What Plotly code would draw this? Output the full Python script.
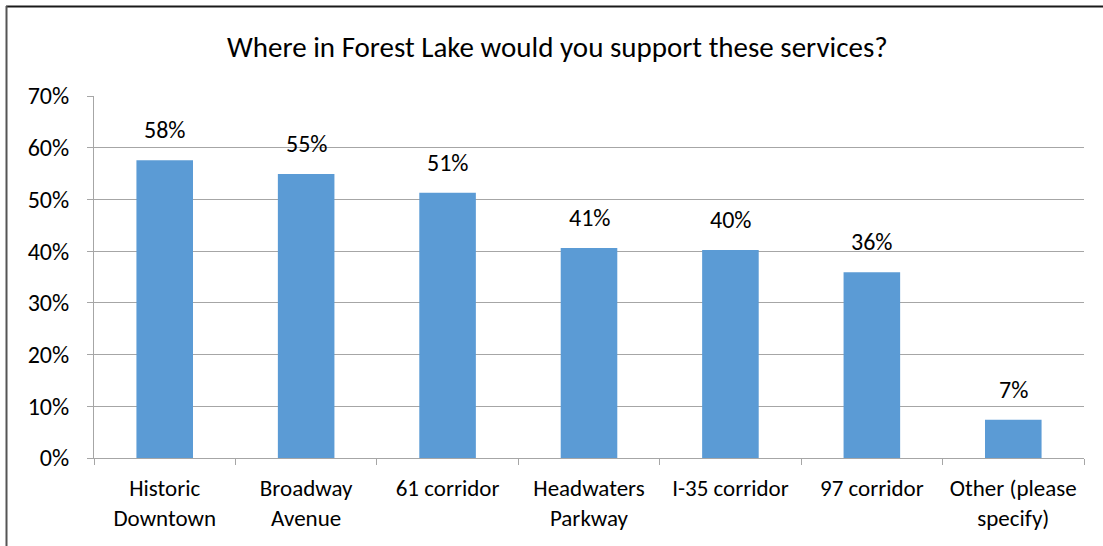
import plotly.graph_objects as go

categories = ["Historic<br>Downtown", "Broadway<br>Avenue", "61 corridor", "Headwaters<br>Parkway",
              "I-35 corridor", "97 corridor", "Other (please<br>specify)"]
values = [0.576, 0.549, 0.513, 0.406, 0.402, 0.359, 0.074]
labels = ["58%", "55%", "51%", "41%", "40%", "36%", "7%"]
tick_vals = [0, 0.1, 0.2, 0.3, 0.4, 0.5, 0.6, 0.7]
tick_text = ["0%", "10%", "20%", "30%", "40%", "50%", "60%", "70%"]
title_text = "Where in Forest Lake would you support these services?"

W, H = 1103, 546
L, R, T, B = 94, 19, 96, 88
FONT = "Carlito, Lato, Open Sans, sans-serif"

fig = go.Figure()
fig.add_trace(go.Bar(x=categories, y=values, marker=dict(color="#5B9BD5", line=dict(width=0)),
                     hoverinfo="skip"))

for c, v, t in zip(categories, values, labels):
    fig.add_annotation(x=c, y=v, text=t, showarrow=False, yanchor="bottom", yshift=14,
                       font=dict(family=FONT, size=24, color="#000000"))

pw = W - L - R
ph = H - T - B
def px_x(p):
    return (p - L) / pw
def px_y(p):
    return (H - B - p) / ph

fig.add_annotation(x=px_x(557), y=px_y(47), xref="paper", yref="paper", text=title_text,
                   showarrow=False, xanchor="center", yanchor="middle",
                   font=dict(family=FONT, size=29, color="#000000"))

# outer chart frame (partly outside the visible window)
fig.add_shape(type="line", xref="paper", yref="paper", x0=px_x(6), x1=px_x(1110), y0=px_y(6.5), y1=px_y(6.5),
              line=dict(color="#1a1a1a", width=2))
fig.add_shape(type="line", xref="paper", yref="paper", x0=px_x(6.5), x1=px_x(6.5), y0=px_y(6), y1=px_y(560),
              line=dict(color="#555555", width=2))

fig.update_layout(
    width=W, height=H,
    margin=dict(l=L, r=R, t=T, b=B, autoexpand=False),
    paper_bgcolor="white", plot_bgcolor="white",
    bargap=0.6, showlegend=False,
    font=dict(family=FONT, size=23, color="#000000"),
)
fig.update_xaxes(showline=True, linecolor="#A6A6A6", linewidth=1, ticks="outside", ticklen=6,
                 tickcolor="#A6A6A6", tickson="boundaries", showgrid=False, ticklabelstandoff=9,
                 tickfont=dict(family=FONT, size=23, color="#000000"))
fig.update_yaxes(range=[0, 0.7], tickvals=tick_vals, ticktext=tick_text, showgrid=True,
                 gridcolor="#A6A6A6", gridwidth=1, showline=True, linecolor="#A6A6A6", linewidth=1,
                 ticks="outside", ticklen=6, tickcolor="#A6A6A6", ticklabelstandoff=13, zeroline=False,
                 tickfont=dict(family=FONT, size=24, color="#000000"))

fig.write_html("out.html")
